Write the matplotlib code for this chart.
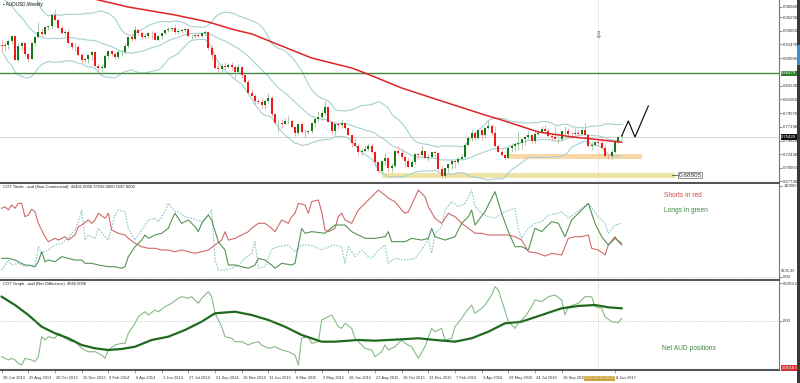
import matplotlib.pyplot as plt
import matplotlib.transforms as mtransforms
import numpy as np
import pandas as pd
from matplotlib.patches import Rectangle

plt.rcParams['font.family'] = ['Liberation Sans', 'DejaVu Sans']

# AUDUSD weekly candles, week 0 = 30 Jun 2013
first_open = 0.9140
closes = [
    .9120, .9145, .9210, .9290, .8880, .9115, .9175, .8990, .8900, .9180,
    .9270, .9370, .9320, .9450, .9475, .9660, .9570, .9430, .9345, .9365,
    .9180, .9100, .9105, .8960, .8880, .8895, .8960, .9010, .8780, .8745,
    .8745, .8950, .9040, .8990, .8935, .9010, .9020, .9120, .9270, .9240,
    .9400, .9340, .9280, .9290, .9350, .9340, .9230, .9300, .9340, .9390,
    .9420, .9425, .9360, .9380, .9400, .9410, .9290, .9290, .9310, .9290,
    .9345, .9370, .9090, .8960, .8740, .8730, .8770, .8760, .8790, .8760,
    .8670, .8750, .8620, .8500, .8310, .8260, .8160, .8150, .8100, .8170,
    .8220, .7940, .7780, .7780, .7770, .7820, .7820, .7720, .7610, .7770,
    .7630, .7630, .7650, .7780, .7860, .7890, .7950, .8070, .7800, .7650,
    .7770, .7750, .7790, .7700, .7580, .7440, .7390, .7280, .7300, .7340,
    .7380, .7290, .7110, .6950, .7120, .7170, .7010, .7040, .7300, .7270,
    .7190, .7130, .7030, .7110, .7240, .7230, .7300, .7180, .7190, .7280,
    .7270, .6990, .6860, .7000, .7080, .7130, .7110, .7160, .7190, .7410,
    .7530, .7620, .7520, .7660, .7580, .7700, .7740, .7610, .7390, .7280,
    .7230, .7180, .7360, .7380, .7420, .7440, .7500, .7550, .7580, .7480,
    .7600, .7620, .7680, .7640, .7560, .7540, .7500, .7510, .7640, .7640,
    .7600, .7590, .7620, .7600, .7670, .7570, .7380, .7400, .7450, .7440,
    .7360, .7220, .7210, .7290, .7450, .7540, .7545]
highs = [
    .9240, .9190, .9230, .9315, .9300, .9180, .9190, .9195, .9000, .9190,
    .9290, .9530, .9430, .9460, .9490, .9680, .9757, .9580, .9480, .9400,
    .9420, .9190, .9180, .9130, .9000, .8920, .8990, .9030, .9030, .8830,
    .8800, .8990, .9050, .9050, .9010, .9050, .9070, .9180, .9280, .9350,
    .9460, .9420, .9380, .9340, .9370, .9380, .9370, .9310, .9350, .9400,
    .9450, .9440, .9504, .9420, .9430, .9440, .9410, .9330, .9330, .9340,
    .9360, .9400, .9370, .9130, .8980, .8800, .8830, .8840, .8830, .8850,
    .8790, .8800, .8760, .8620, .8540, .8380, .8290, .8200, .8210, .8200,
    .8300, .8260, .7960, .7830, .7840, .7880, .7910, .7840, .7730, .7780,
    .7800, .7680, .7660, .7790, .7870, .8000, .8000, .8164, .8070, .7820,
    .7800, .7800, .7850, .7800, .7700, .7590, .7520, .7420, .7340, .7410,
    .7440, .7440, .7300, .7130, .7120, .7260, .7190, .7090, .7320, .7382,
    .7330, .7220, .7170, .7150, .7240, .7260, .7385, .7310, .7240, .7290,
    .7320, .7290, .7040, .7010, .7080, .7150, .7150, .7190, .7250, .7420,
    .7560, .7680, .7640, .7670, .7680, .7710, .7835, .7760, .7720, .7400,
    .7330, .7250, .7370, .7440, .7460, .7640, .7510, .7580, .7640, .7600,
    .7640, .7680, .7730, .7757, .7680, .7610, .7731, .7560, .7650, .7730,
    .7700, .7640, .7700, .7670, .7700, .7778, .7600, .7460, .7480, .7520,
    .7530, .7410, .7260, .7330, .7470, .7560, .7590]
lows = [
    .9050, .9040, .9070, .9160, .8870, .8848, .9050, .8950, .8848, .8890,
    .9120, .9260, .9280, .9310, .9390, .9420, .9550, .9420, .9330, .9290,
    .9160, .9070, .9030, .8950, .8820, .8840, .8820, .8880, .8760, .8660,
    .8670, .8740, .8900, .8950, .8890, .8890, .8950, .8990, .9090, .9200,
    .9230, .9300, .9240, .9250, .9260, .9250, .9220, .9200, .9250, .9320,
    .9360, .9380, .9330, .9320, .9340, .9360, .9280, .9240, .9260, .9270,
    .9280, .9290, .9050, .8900, .8730, .8650, .8642, .8700, .8740, .8700,
    .8540, .8640, .8560, .8480, .8290, .8260, .8100, .8120, .8030, .8030,
    .8130, .7900, .7770, .7626, .7690, .7760, .7770, .7690, .7561, .7580,
    .7620, .7533, .7590, .7620, .7710, .7800, .7830, .7930, .7800, .7590,
    .7580, .7680, .7700, .7680, .7570, .7370, .7380, .7230, .7230, .7290,
    .7300, .7240, .7044, .6920, .6894, .7050, .6936, .6940, .7020, .7230,
    .7160, .7020, .7010, .7020, .7070, .7160, .7220, .7160, .7120, .7190,
    .7200, .6970, .6827, .6830, .6930, .6980, .7010, .7080, .7140, .7180,
    .7380, .7470, .7490, .7500, .7490, .7530, .7680, .7580, .7370, .7280,
    .7220, .7145, .7170, .7290, .7300, .7320, .7330, .7410, .7500, .7440,
    .7440, .7560, .7610, .7590, .7550, .7480, .7500, .7440, .7480, .7580,
    .7550, .7510, .7580, .7580, .7580, .7560, .7370, .7310, .7380, .7410,
    .7350, .7200, .7160, .7160, .7270, .7440, .7500]
# the 19 weekly closes before the first visible week, they only feed the bands
pre_closes = [1.0270, 1.0240, 1.0260, 1.0410, 1.0440, 1.0420, 1.0470, 1.0560,
              1.0290, 1.0310, 1.0220, 0.9950, 0.9780, 0.9680, 0.9570, 0.9530,
              0.9550, 0.9260, 0.9140]

# long moving average (red)
ma_weeks = [24, 29, 38, 52, 62, 70, 75, 81, 93, 105, 109, 120, 131, 145, 150,
            161, 171, 180, 186]
ma_prices = [0.998, 0.9918, 0.9796, 0.9658, 0.9536, 0.9398, 0.9330, 0.9190,
             0.8912, 0.8739, 0.8652, 0.8392, 0.8184, 0.7924, 0.7837, 0.7629,
             0.7545, 0.7490, 0.7450]

support_level = 0.86479
last_price = 0.75420
zone_label_price = 0.68805
yellow_zone = [114, 202, 0.6831, 0.6918]
orange_zone = [152, 192, 0.7161, 0.7247]
zigzag_weeks = [186, 188, 190, 194]
zigzag_prices = [0.7559, 0.7820, 0.7542, 0.8080]
marker_week = 179

price_ticks = [0.98040, 0.96230, 0.93850, 0.91470, 0.89090, 0.84330, 0.81950,
               0.79570, 0.77190, 0.74810, 0.72430, 0.70050, 0.67740]

# COT totals, thousands of contracts
shorts_weeks = [0, 1, 2, 3, 4, 5, 6, 7, 8, 9, 10, 11, 13, 14, 16, 17, 19, 20, 22, 23,
                24, 26, 27, 28, 29, 31, 32, 33, 35, 37, 38, 40, 42, 44, 46, 48, 50, 52, 54, 56,
                58, 60, 62, 64, 66, 67, 68, 70, 72, 74, 75, 77, 79, 81, 82, 84, 86, 87, 88, 89,
                91, 92, 93, 95, 96, 97, 98, 100, 101, 102, 103, 105, 107, 110, 113, 115, 116, 118, 120, 121,
                122, 123, 125, 127, 128, 130, 132, 134, 136, 138, 140, 142, 144, 146, 149, 152, 154, 156, 158, 161,
                163, 165, 168, 170, 172, 174, 176, 177, 179, 181, 182, 184, 185, 186]
shorts_k = [83.6, 85.6, 81.5, 87.7, 83.6, 89.7, 89.7, 73.3, 75.4, 82.4,
            79.4, 65.2, 48.8, 42.7, 46.8, 44.7, 48.8, 44.7, 50.9, 61.1,
            63.1, 69.3, 65.2, 69.3, 77.5, 71.4, 77.5, 57.0, 53.0, 50.9,
            46.8, 40.7, 36.5, 34.6, 34.6, 32.5, 32.5, 30.4, 32.5, 30.4,
            28.4, 30.4, 32.5, 38.6, 44.7, 54.9, 44.7, 46.8, 50.9, 54.9,
            59.1, 65.2, 65.2, 59.1, 54.9, 69.3, 65.2, 73.3, 77.5, 89.7,
            87.7, 77.5, 91.7, 93.8, 79.4, 57.0, 54.9, 59.1, 73.3, 77.5,
            69.3, 65.2, 81.5, 93.8, 106.0, 99.9, 95.9, 91.7, 81.5, 77.5,
            79.4, 87.7, 106.0, 97.8, 85.6, 71.4, 65.2, 77.5, 73.3, 65.2,
            59.1, 53.0, 53.0, 50.9, 50.9, 50.9, 48.8, 44.7, 30.4, 28.4,
            25.1, 28.4, 26.4, 46.8, 48.8, 48.8, 50.9, 34.5, 32.5, 26.4,
            38.6, 48.8, 42.7, 38.6]
longs_weeks = [0, 2, 4, 5, 7, 8, 10, 11, 12, 13, 14, 16, 18, 20, 22, 24, 25, 27, 29, 32,
               34, 36, 37, 38, 40, 42, 43, 44, 46, 48, 50, 51, 52, 54, 56, 58, 59, 60, 62, 63,
               65, 67, 68, 70, 72, 74, 76, 77, 79, 81, 82, 84, 87, 88, 90, 91, 93, 97, 100, 103,
               105, 109, 112, 115, 116, 117, 121, 123, 126, 128, 129, 130, 133, 136, 138, 140, 141, 142, 145, 148,
               150, 152, 154, 156, 158, 160, 162, 165, 167, 169, 171, 173, 176, 178, 180, 182, 184, 186]
longs_k = [22.3, 22.3, 20.2, 18.1, 14.1, 14.1, 12.0, 18.1, 30.4, 18.1,
           20.2, 18.1, 24.3, 22.3, 20.2, 20.2, 16.2, 16.2, 14.1, 12.0,
           12.0, 10.1, 12.0, 24.3, 36.5, 44.7, 50.9, 46.8, 50.9, 53.0,
           59.1, 69.3, 77.5, 65.2, 69.3, 61.1, 55.0, 65.2, 75.4, 69.3,
           42.7, 32.5, 14.1, 14.1, 12.0, 10.1, 14.1, 22.3, 20.2, 14.0,
           10.1, 16.2, 14.1, 16.2, 59.1, 53.0, 55.0, 53.0, 63.1, 63.1,
           55.0, 46.8, 46.8, 48.8, 55.0, 42.7, 42.7, 46.8, 44.7, 46.8,
           59.1, 48.8, 44.7, 48.8, 65.2, 73.3, 81.5, 63.1, 79.5, 104.0,
           77.5, 55.0, 36.5, 36.5, 32.5, 59.1, 55.0, 67.2, 65.2, 48.8,
           69.3, 77.5, 89.7, 65.2, 48.8, 38.6, 46.8, 40.7]
spread_weeks = [0, 2, 3, 5, 7, 9, 10, 11, 12, 14, 16, 18, 20, 21, 22, 23, 24, 25, 26, 28,
                29, 31, 32, 34, 35, 37, 38, 40, 42, 44, 46, 47, 49, 50, 52, 53, 55, 57, 60, 62,
                63, 64, 65, 67, 69, 71, 73, 75, 76, 77, 79, 81, 83, 86, 88, 90, 92, 94, 96, 98,
                100, 102, 103, 104, 106, 108, 110, 111, 113, 115, 116, 118, 121, 124, 126, 128, 129, 130, 132, 133,
                135, 137, 139, 141, 142, 144, 146, 148, 151, 154, 155, 156, 158, 160, 162, 164, 167, 168, 170, 172,
                174, 176, 179, 181, 182, 184, 186]
spread_k = [8.0, 20.2, 14.1, 16.2, 12.0, 14.1, 12.0, 36.5, 28.4, 32.5,
            38.6, 40.7, 46.8, 53.0, 57.0, 67.2, 81.5, 44.7, 50.9, 46.8,
            59.1, 48.8, 44.7, 75.4, 81.5, 79.5, 59.1, 44.7, 57.0, 69.3,
            71.4, 67.2, 79.5, 89.7, 79.5, 79.5, 73.3, 71.4, 67.2, 75.4,
            81.5, 20.2, 8.0, 8.0, 10.1, 14.1, 22.3, 28.4, 42.7, 10.1,
            12.0, 33.6, 36.5, 38.6, 30.4, 38.6, 38.6, 36.5, 32.5, 36.5,
            38.6, 36.5, 16.2, 36.5, 24.3, 32.5, 24.3, 22.3, 32.5, 38.6,
            16.2, 22.3, 20.2, 22.3, 32.5, 46.8, 28.4, 53.0, 61.1, 81.5,
            91.7, 85.6, 89.7, 106.0, 85.6, 77.5, 73.3, 71.4, 79.5, 83.6,
            57.0, 46.8, 59.1, 65.2, 67.2, 75.4, 77.5, 79.5, 71.4, 77.5,
            83.6, 89.7, 73.3, 65.2, 53.0, 63.1, 65.2]

# COT net difference and its average, thousands of contracts
net_weeks = [0, 2, 3, 4, 5, 6, 7, 9, 10, 11, 12, 13, 14, 16, 17, 18, 19, 21, 22, 24,
             26, 28, 30, 31, 32, 34, 36, 37, 38, 40, 41, 43, 44, 46, 47, 49, 50, 51, 53, 54,
             56, 57, 59, 60, 62, 63, 64, 66, 67, 69, 70, 72, 74, 75, 77, 78, 80, 82, 84, 86,
             88, 89, 90, 92, 93, 95, 96, 98, 99, 101, 102, 103, 105, 106, 109, 111, 112, 114, 115, 116,
             118, 120, 121, 123, 125, 127, 129, 130, 132, 133, 135, 136, 138, 139, 141, 142, 144, 145, 147, 148,
             149, 150, 152, 154, 155, 157, 159, 160, 162, 164, 166, 168, 169, 170, 173, 174, 175, 177, 178, 180,
             181, 183, 185, 186]
net_k = [-63.0, -68.9, -65.9, -68.9, -74.7, -77.7, -65.9, -68.9, -71.9, -63.0,
         -27.7, -33.5, -27.7, -30.5, -21.7, -24.7, -30.5, -36.5, -36.5, -48.2,
         -54.2, -54.2, -60.0, -65.9, -51.2, -42.4, -39.4, -39.4, -21.7, -4.1,
         7.6, 16.4, 10.6, 19.4, 16.4, 25.2, 28.2, 31.3, 40.1, 42.9,
         40.1, 42.9, 31.3, 40.1, 51.7, 42.9, 13.6, -10.1, -27.7, -30.5,
         -36.5, -36.5, -42.4, -39.4, -36.5, -42.4, -48.2, -45.4, -51.2, -54.2,
         -60.0, -77.7, -30.5, -27.7, -39.4, -36.5, 1.8, 7.6, 10.6, -10.1,
         -12.9, -4.1, -12.9, -30.5, -48.2, -51.2, -63.0, -54.2, -42.4, -51.2,
         -45.4, -33.5, -39.4, -45.4, -65.9, -45.4, -12.9, -18.9, -12.9, -33.5,
         -30.5, -10.1, 4.8, 13.6, 28.2, 13.6, 22.4, 28.2, 45.9, 60.6,
         54.7, 37.1, -1.2, -12.9, -4.1, 7.6, 25.2, 37.1, 34.1, 42.9,
         45.9, 37.1, 10.6, 25.2, 31.3, 37.1, 42.9, 42.9, 25.2, 22.4,
         7.6, -1.2, -3.0, 4.8]
netma_weeks = [0, 4, 8, 12, 16, 20, 24, 28, 32, 36, 40, 45, 50, 55, 60, 64, 70, 75, 80, 85,
               90, 96, 100, 107, 112, 120, 125, 130, 136, 141, 146, 151, 156, 162, 168, 173, 178, 182, 186]
netma_k = [42.9, 28.2, 10.6, -10.1, -21.7, -30.5, -42.4, -48.2, -51.2, -49.4,
           -45.4, -33.5, -27.7, -15.9, -1.2, 13.6, 16.4, 10.6, 1.8, -10.1,
           -24.7, -36.5, -36.5, -33.5, -34.8, -32.3, -30.5, -33.5, -36.5, -30.5,
           -18.9, -4.1, -1.2, 10.6, 22.4, 26.5, 28.2, 24.2, 22.4]

date_weeks = [0, 8, 16, 24, 32, 40, 48, 56, 64, 72, 80, 88, 96, 104, 112, 120,
              128, 136, 144, 152, 160, 168, 184]
date_labels = ['30 Jun 2013', '25 Aug 2013', '20 Oct 2013', '15 Dec 2013', '9 Feb 2014',
               '6 Apr 2014', '1 Jun 2014', '27 Jul 2014', '21 Sep 2014', '16 Nov 2014',
               '11 Jan 2015', '8 Mar 2015', '3 May 2015', '28 Jun 2015', '23 Aug 2015',
               '18 Oct 2015', '13 Dec 2015', '7 Feb 2016', '3 Apr 2016', '29 May 2016',
               '24 Jul 2016', '18 Sep 2016', '8 Jan 2017']

W, H = 800, 383
fig = plt.figure(figsize=(W / 100, H / 100), dpi=100)


def panel(top, bottom):
    a = fig.add_axes([0, (H - bottom) / H, 779 / W, (bottom - top) / H])
    a.set_xlim(-0.5, 233.2)
    for s in ('top', 'left'):
        a.spines[s].set_visible(False)
    a.spines['bottom'].set_color('#555555')
    a.spines['bottom'].set_linewidth(1.5)
    a.spines['right'].set_color('#777777')
    a.spines['right'].set_linewidth(0.8)
    a.yaxis.tick_right()
    a.tick_params(axis='y', length=2, width=0.4, labelsize=3.1, pad=1,
                  colors='#333333')
    a.tick_params(axis='x', bottom=False, labelbottom=False)
    a.axvline(marker_week, color='#d8c7a0', lw=0.7, ls=':')
    return a


ax = panel(0, 183)
ax_c = panel(184, 280)
ax_n = panel(281, 370)
right = mtransforms.blended_transform_factory

# ---- price panel ----
weeks = np.arange(len(closes))
c = np.array(closes)
o = np.array([first_open] + closes[:-1])
h = np.maximum(np.array(highs), np.maximum(o, c))
l = np.minimum(np.array(lows), np.minimum(o, c))
up = c >= o

all_c = pd.Series(pre_closes + closes)
mid = all_c.rolling(20).mean().to_numpy()[len(pre_closes):]
sd = all_c.rolling(20).std(ddof=0).to_numpy()[len(pre_closes):]
for band in (mid + 2 * sd, mid, mid - 2 * sd):
    ax.plot(weeks, band, color='#a6d1d1', lw=0.8, zorder=2)

ax.add_patch(Rectangle((yellow_zone[0], yellow_zone[2]), yellow_zone[1] - yellow_zone[0],
                       yellow_zone[3] - yellow_zone[2], fc='#efe4a7', ec='none', zorder=1))
ax.add_patch(Rectangle((orange_zone[0], orange_zone[2]), orange_zone[1] - orange_zone[0],
                       orange_zone[3] - orange_zone[2], fc='#f9d8a5', ec='none', zorder=1))

ax.axhline(support_level, color='#3f8a3f', lw=1.0, zorder=2)
ax.axhline(last_price, color='#cfcfcf', lw=0.6, zorder=1)

ax.vlines(weeks[up], l[up], h[up], color='#9fbd9f', lw=0.6, zorder=3)
ax.vlines(weeks[~up], l[~up], h[~up], color='#eda5a5', lw=0.6, zorder=3)
body_lo = np.minimum(o, c)
body_h = np.maximum(np.abs(c - o), 0.0007)
ax.bar(weeks[up], body_h[up], 0.62, bottom=body_lo[up], color='#157a15', lw=0, zorder=4)
ax.bar(weeks[~up], body_h[~up], 0.62, bottom=body_lo[~up], color='#f01818', lw=0, zorder=4)

ax.plot(ma_weeks, ma_prices, color='#dd2424', lw=1.1, zorder=5)
ax.plot(zigzag_weeks, zigzag_prices, color='black', lw=0.8, zorder=5)

ax.set_ylim(0.67446, 0.99178)
ax.set_yticks(price_ticks)
ax.set_yticklabels(['%.5f' % p for p in price_ticks])

ax.text(0.004, 0.99, '\u25aa AUDUSD,Weekly', transform=ax.transAxes, fontsize=3.4,
        va='top', ha='left', color='#111111')
ax.text(marker_week, 0.9294, '\u21e9', fontsize=6.5, ha='center', va='center',
        color='#555555', family=['DejaVu Sans'])
ax.plot([201.2, 202.6], [zone_label_price] * 2, color='#333333', lw=0.5)
ax.text(203, zone_label_price, '%.5f' % zone_label_price, fontsize=4.6, va='center',
        ha='left', color='#333333',
        bbox=dict(fc='white', ec='#666666', lw=0.5, pad=0.3))

tr = right(ax.transAxes, ax.transData)
ax.text(1.003, support_level, '%.5f' % support_level, transform=tr, fontsize=3.1,
        va='center', ha='left', color='white', clip_on=False,
        bbox=dict(fc='#2f7a2f', ec='none', pad=0.5))
ax.text(1.003, last_price, '%.5f' % last_price, transform=tr, fontsize=3.1,
        va='center', ha='left', color='white', clip_on=False,
        bbox=dict(fc='#111111', ec='none', pad=0.5))

# ---- COT totals panel ----
ax_c.plot(spread_weeks, spread_k, color='#8ec5c5', lw=0.8, ls=(0, (1.5, 1.2)))
ax_c.plot(shorts_weeks, shorts_k, color='#d06a6a', lw=0.8)
ax_c.plot(longs_weeks, longs_k, color='#559355', lw=0.8)
ax_c.axhline(0, color='#aaaaaa', lw=0.5, ls=':')
ax_c.set_ylim(-4.29, 113.4)
ax_c.set_yticks([110.9653, 0])
ax_c.set_yticklabels(['110965.3', '0.00'])
ax_c.text(0.004, 0.985, 'COT Totals - aud (Non-Commercial)  42401.0000 37556.0000 1587.0000',
          transform=ax_c.transAxes, fontsize=3.0, va='top', ha='left', color='#222222')
ax_c.text(1.003, 6.2, '9235.35', transform=right(ax_c.transAxes, ax_c.transData),
          fontsize=2.9, va='center', ha='left', color='#333333', clip_on=False)
ax_c.text(198.6, 98.7, 'Shorts in red', fontsize=4.8, color='#d04848', va='center')
ax_c.text(198.6, 81.5, 'Longs in green', fontsize=4.8, color='#3d8b3d', va='center')

# ---- COT net panel ----
ax_n.plot(net_weeks, net_k, color='#86bb86', lw=0.8)
ax_n.plot(netma_weeks, netma_k, color='#1f6a1f', lw=1.6)
ax_n.axhline(0, color='#aaaaaa', lw=0.5, ls=':')
ax_n.set_ylim(-86.5, 70.6)
ax_n.set_yticks([66.20955, 0])
ax_n.set_yticklabels(['66209.55', '0.00'])
ax_n.text(0.004, 0.985, 'COT Graph - aud (Net Difference)  4845.0000',
          transform=ax_n.transAxes, fontsize=3.0, va='top', ha='left', color='#222222')
ax_n.text(198, -47.7, 'Net AUD positions', fontsize=4.8, color='#3d8b3d', va='center')
ax_n.text(1.003, -83.0, '-83016.6', transform=right(ax_n.transAxes, ax_n.transData),
          fontsize=3.1, va='center', ha='left', color='white', clip_on=False,
          bbox=dict(fc='#d83030', ec='none', pad=0.5))

ax_n.set_xticks(date_weeks)
ax_n.tick_params(axis='x', bottom=True, length=2, width=0.4, color='#555555')
dtr = right(ax_n.transData, ax_n.transAxes)
for wk, lab in zip(date_weeks, date_labels):
    ax_n.text(wk + 0.3, -0.095, lab, transform=dtr, fontsize=2.85, ha='left',
              va='center', color='#333333', clip_on=False)
ax_n.text(179.4, -0.095, '2016.12.04 00:00', transform=dtr, fontsize=2.85,
          ha='center', va='center', color='#f6f0d6', clip_on=False,
          bbox=dict(fc='#c9a23c', ec='none', pad=0.3))

# scrollbar strip at the right edge
fig.add_artist(Rectangle((797 / W, 0), 3 / W, 1, transform=fig.transFigure,
                         fc='#3a3a3a', ec='none'))
fig.add_artist(Rectangle((797 / W, (H - 65) / H), 3 / W, 20 / H,
                         transform=fig.transFigure, fc='#3d8fd0', ec='none'))

fig.savefig('out.png', dpi=100)
